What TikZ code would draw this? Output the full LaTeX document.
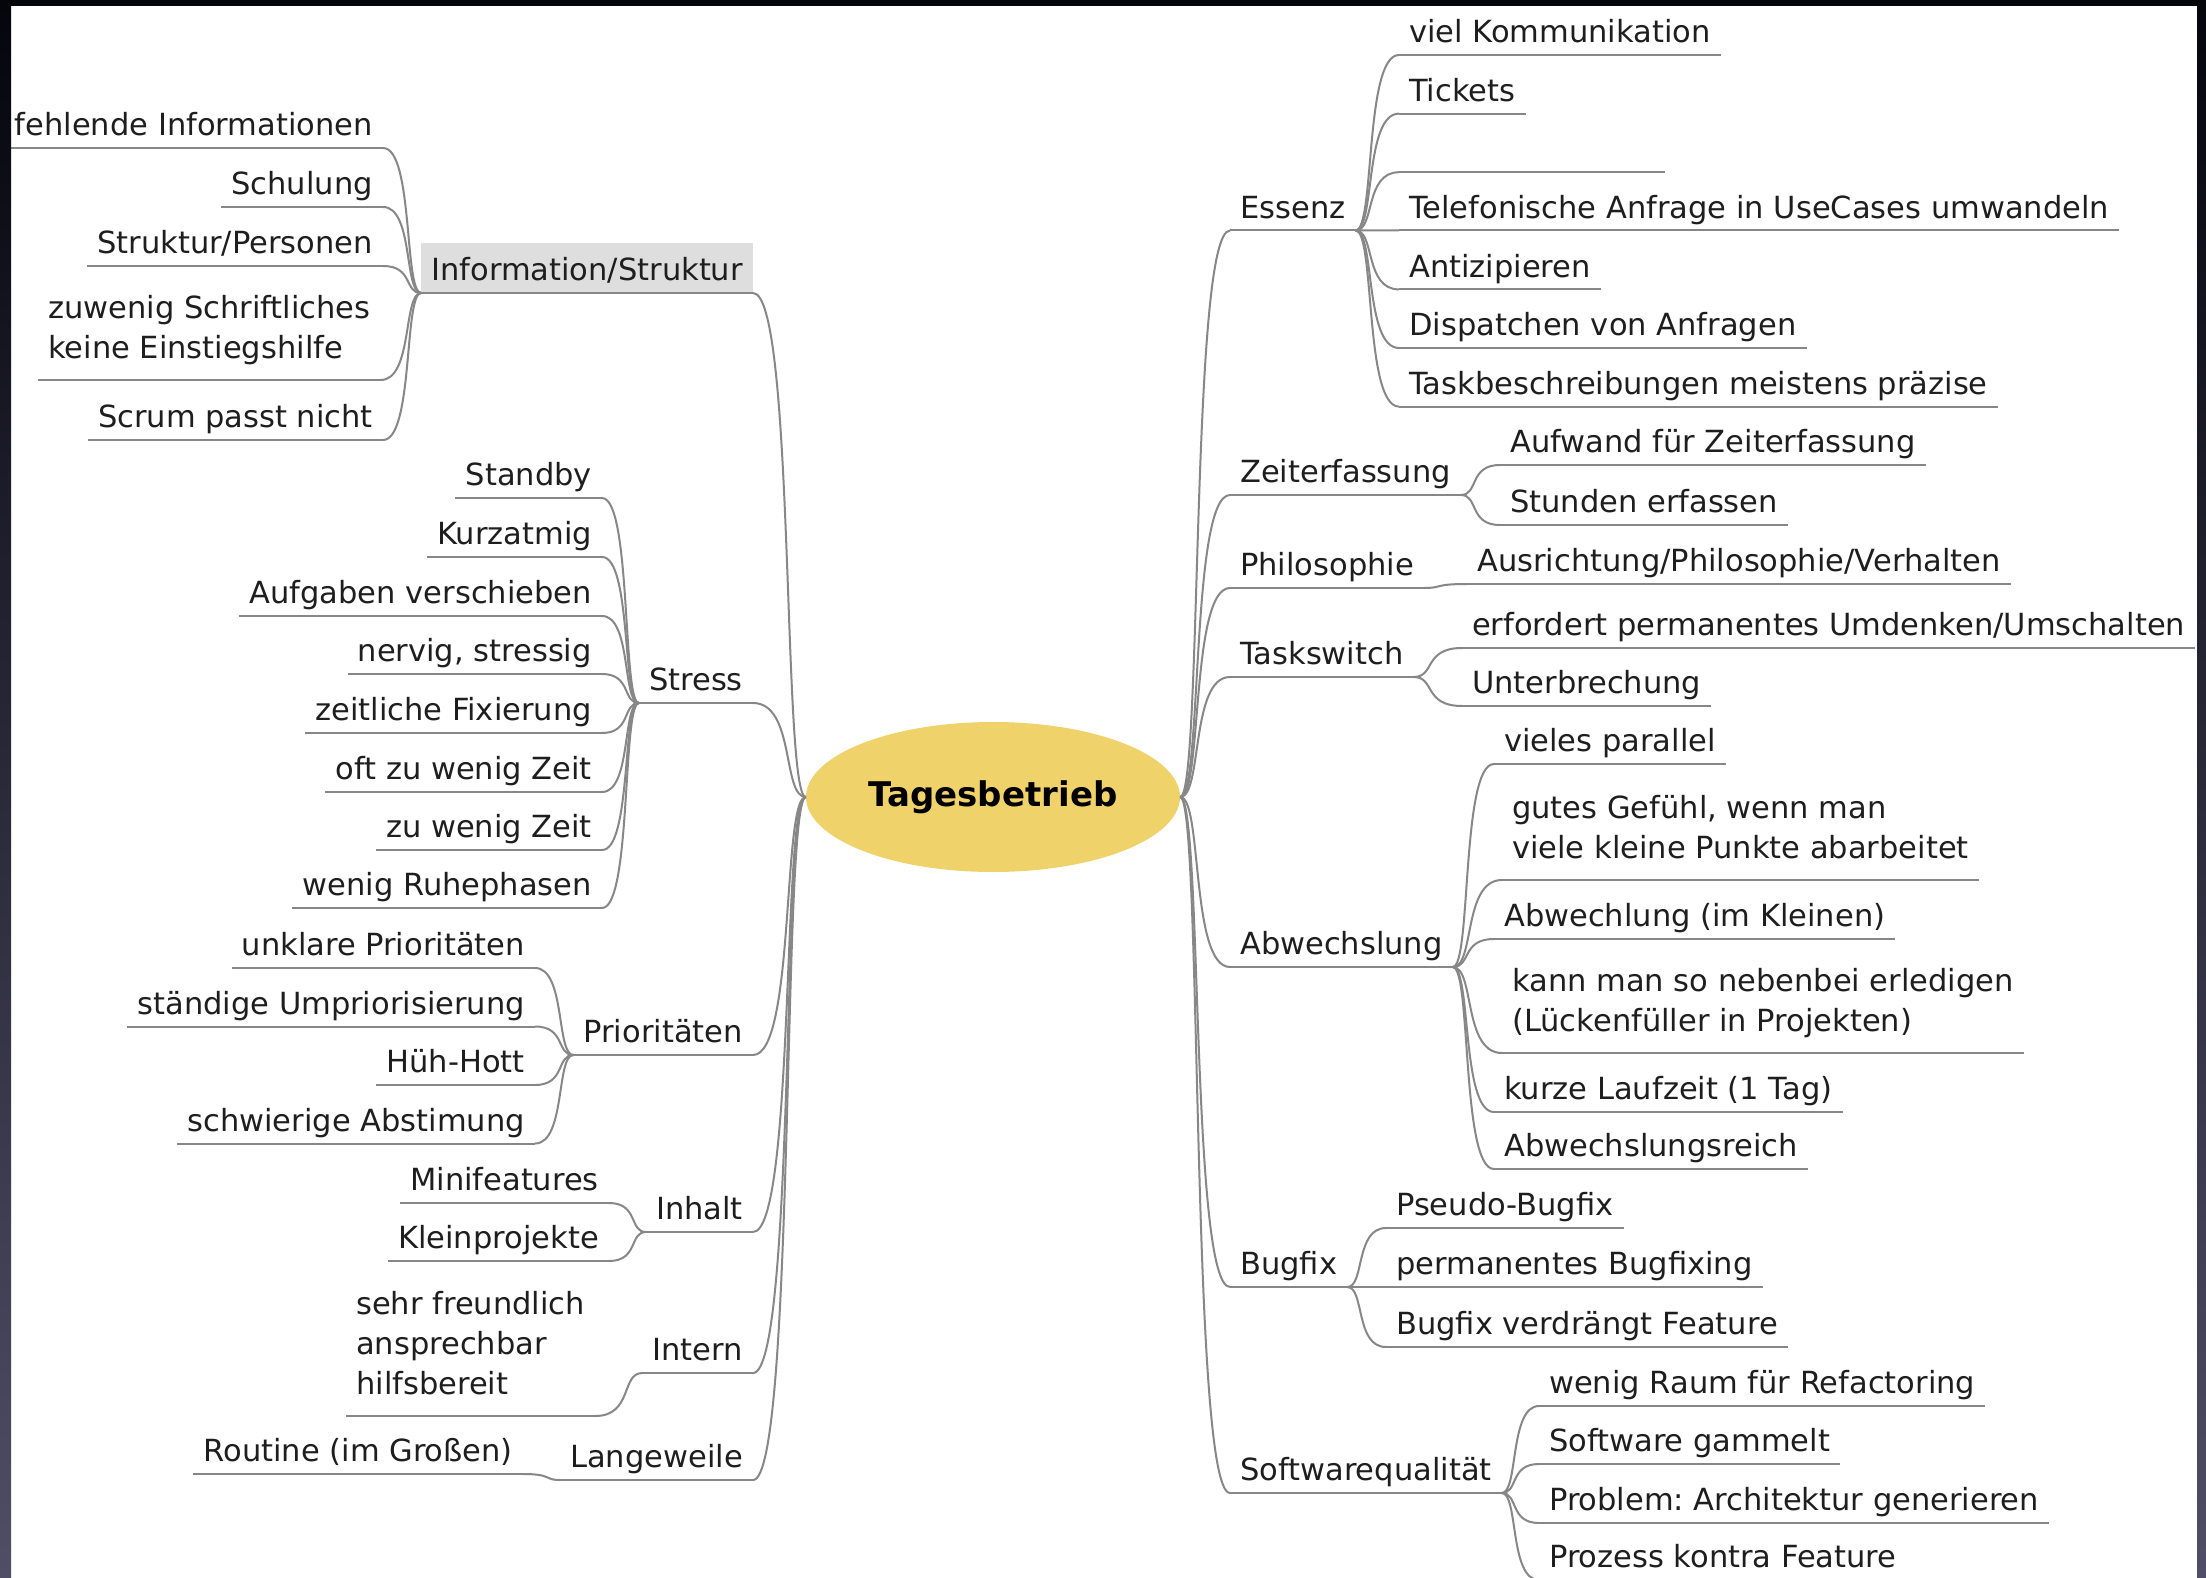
\documentclass[tikz,border=0pt]{standalone}
\usepackage{fontspec}
\setmainfont{DejaVu Sans}
\frenchspacing
\usetikzlibrary{calc,shapes.geometric}
\definecolor{linegray}{RGB}{135,135,135}
\definecolor{boxgray}{RGB}{221,222,221}
\definecolor{rootfill}{RGB}{240,210,106}
\definecolor{framedark}{RGB}{5,5,12}
\definecolor{framelight}{RGB}{80,78,102}
\definecolor{txt}{RGB}{30,30,30}
\newcommand\sdp{\rule[-12pt]{0pt}{12pt}}
\newcommand\mdp{\rule[-21pt]{0pt}{21pt}}
\newcommand\edgeto[2]{\draw[conn] (#1) .. controls ($(#1)!0.8!(#2|-#1)$) and ($(#1|-#2)!0.55!(#2)$) .. (#2);}
\begin{document}
\begin{tikzpicture}[x=1pt,y=-1pt,
  item/.style={font=\fontsize{30.5pt}{40pt}\selectfont, text=txt, inner xsep=10pt, inner ysep=0pt, align=left},
  litem/.style={item, anchor=south east},
  ritem/.style={item, anchor=south west},
  conn/.style={draw=linegray, line width=2pt},
  uline/.style={draw=linegray, line width=2pt},
  rootnode/.style={ellipse, fill=rootfill, minimum width=374pt, minimum height=150pt, inner sep=0pt, text=black, font=\bfseries\fontsize{34pt}{40pt}\selectfont}
]
\useasboundingbox (0,0) rectangle (2206,1578);
\fill[white] (0,0) rectangle (2206,1578);

% root
\node[rootnode] (root) at (993,797) {Tagesbetrieb};

% left level 1
\node[litem, fill=boxgray, text height=38pt] (info) at (753,293) {Information/Struktur\sdp};
\node[litem] (stress) at (753,703) {Stress\sdp};
\node[litem] (prio) at (753,1055) {Prioritäten\sdp};
\node[litem] (inhalt) at (753,1232) {Inhalt\sdp};
\node[litem] (intern) at (753,1373) {Intern\sdp};
\node[litem] (lange) at (753,1480) {Langeweile\sdp};

% Information/Struktur children
\node[litem] (i1) at (383,148) {fehlende Informationen\sdp};
\node[litem] (i2) at (383,207) {Schulung\sdp};
\node[litem] (i3) at (383,266) {Struktur/Personen\sdp};
\node[ritem] (i4) at (38,380) {zuwenig Schriftliches\\keine Einstiegshilfe\mdp};
\node[litem] (i5) at (383,440) {Scrum passt nicht\sdp};

% Stress children
\node[litem] (st1) at (602,498) {Standby\sdp};
\node[litem] (st2) at (602,557) {Kurzatmig\sdp};
\node[litem] (st3) at (602,616) {Aufgaben verschieben\sdp};
\node[litem] (st4) at (602,674) {nervig, stressig\sdp};
\node[litem] (st5) at (602,733) {zeitliche Fixierung\sdp};
\node[litem] (st6) at (602,792) {oft zu wenig Zeit\sdp};
\node[litem] (st7) at (602,850) {zu wenig Zeit\sdp};
\node[litem] (st8) at (602,908) {wenig Ruhephasen\sdp};

% Prioritaeten children
\node[litem] (pr1) at (535,968) {unklare Prioritäten\sdp};
\node[litem] (pr2) at (535,1026.5) {ständige Umpriorisierung\sdp};
\node[litem] (pr3) at (535,1085) {Hüh-Hott\sdp};
\node[litem] (pr4) at (535,1143.5) {schwierige Abstimung\sdp};

% Inhalt children
\node[litem] (ih1) at (609,1203) {Minifeatures\sdp};
\node[litem] (ih2) at (609,1261) {Kleinprojekte\sdp};

% Intern child
\node[ritem] (in1) at (346,1416) {sehr freundlich\\ansprechbar\\hilfsbereit\mdp};

% Langeweile child
\node[litem] (lw1) at (523,1474) {Routine (im Großen)\sdp};

% right level 1
\node[ritem] (ess) at (1230,230.5) {Essenz\sdp};
\node[ritem] (zeit) at (1230,495) {Zeiterfassung\sdp};
\node[ritem] (philo) at (1230,588) {Philosophie\sdp};
\node[ritem] (task) at (1230,677) {Taskswitch\sdp};
\node[ritem] (abw) at (1230,967) {Abwechslung\sdp};
\node[ritem] (bug) at (1230,1287) {Bugfix\sdp};
\node[ritem] (swq) at (1230,1493) {Softwarequalität\sdp};

% Essenz children
\node[ritem] (e1) at (1399,55) {viel Kommunikation\sdp};
\node[ritem] (e2) at (1399,113.6) {Tickets\sdp};
\node[ritem, minimum width=266pt] (e3) at (1399,172.2) {\sdp};
\node[ritem] (e4) at (1399,230.5) {Telefonische Anfrage in UseCases umwandeln\sdp};
\node[ritem] (e5) at (1399,289.4) {Antizipieren\sdp};
\node[ritem] (e6) at (1399,348) {Dispatchen von Anfragen\sdp};
\node[ritem] (e7) at (1399,406.6) {Taskbeschreibungen meistens präzise\sdp};

% Zeiterfassung children
\node[ritem] (z1) at (1500,465) {Aufwand für Zeiterfassung\sdp};
\node[ritem] (z2) at (1500,525) {Stunden erfassen\sdp};

% Philosophie child
\node[ritem] (p1) at (1467,584) {Ausrichtung/Philosophie/Verhalten\sdp};

% Taskswitch children
\node[ritem] (t1) at (1462,648) {erfordert permanentes Umdenken/Umschalten\sdp};
\node[ritem] (t2) at (1462,706) {Unterbrechung\sdp};

% Abwechslung children
\node[ritem] (a1) at (1494,764) {vieles parallel\sdp};
\node[ritem] (a2) at (1502,880) {gutes Gefühl, wenn man\\viele kleine Punkte abarbeitet\mdp};
\node[ritem] (a3) at (1494,939) {Abwechlung (im Kleinen)\sdp};
\node[ritem] (a4) at (1502,1053) {kann man so nebenbei erledigen\\(Lückenfüller in Projekten)\mdp};
\node[ritem] (a5) at (1494,1112) {kurze Laufzeit (1 Tag)\sdp};
\node[ritem] (a6) at (1494,1169) {Abwechslungsreich\sdp};

% Bugfix children
\node[ritem] (b1) at (1386,1228) {Pseudo-Bugfix\sdp};
\node[ritem] (b2) at (1386,1287) {permanentes Bugfixing\sdp};
\node[ritem] (b3) at (1386,1347) {Bugfix verdrängt Feature\sdp};

% Softwarequalitaet children
\node[ritem] (s1) at (1539,1406) {wenig Raum für Refactoring\sdp};
\node[ritem] (s2) at (1539,1464) {Software gammelt\sdp};
\node[ritem] (s3) at (1539,1523) {Problem: Architektur generieren\sdp};
\node[ritem] (s4) at (1539,1580) {Prozess kontra Feature\sdp};

% underlines
\foreach \n in {info,stress,prio,inhalt,intern,lange,i1,i2,i3,i4,i5,st1,st2,st3,st4,st5,st6,st7,st8,pr1,pr2,pr3,pr4,ih1,ih2,in1,lw1,ess,zeit,philo,task,abw,bug,swq,e1,e2,e3,e4,e5,e6,e7,z1,z2,p1,t1,t2,a1,a2,a3,a4,a5,a6,b1,b2,b3,s1,s2,s3,s4}
  \draw[uline] (\n.south west) -- (\n.south east);

% left connectors
\foreach \n in {info,stress,prio,inhalt,intern,lange} {\edgeto{\n.south east}{root.west}}
\foreach \n in {i1,i2,i3,i4,i5} {\edgeto{\n.south east}{info.south west}}
\foreach \n in {st1,st2,st3,st4,st5,st6,st7,st8} {\edgeto{\n.south east}{stress.south west}}
\foreach \n in {pr1,pr2,pr3,pr4} {\edgeto{\n.south east}{prio.south west}}
\foreach \n in {ih1,ih2} {\edgeto{\n.south east}{inhalt.south west}}
\edgeto{in1.south east}{intern.south west}
\edgeto{lw1.south east}{lange.south west}

% right connectors
\foreach \n in {ess,zeit,philo,task,abw,bug,swq} {\edgeto{\n.south west}{root.east}}
\foreach \n in {e1,e2,e3,e4,e5,e6,e7} {\edgeto{\n.south west}{ess.south east}}
\foreach \n in {z1,z2} {\edgeto{\n.south west}{zeit.south east}}
\edgeto{p1.south west}{philo.south east}
\foreach \n in {t1,t2} {\edgeto{\n.south west}{task.south east}}
\foreach \n in {a1,a2,a3,a4,a5,a6} {\edgeto{\n.south west}{abw.south east}}
\foreach \n in {b1,b2,b3} {\edgeto{\n.south west}{bug.south east}}
\foreach \n in {s1,s2,s3,s4} {\edgeto{\n.south west}{swq.south east}}

% frame
\shade[top color=framedark, bottom color=framelight] (0,0) rectangle (11,1578);
\shade[top color=framedark, bottom color=framelight] (2197,0) rectangle (2206,1578);
\fill[framedark] (0,0) rectangle (2206,6);
\end{tikzpicture}
\end{document}
